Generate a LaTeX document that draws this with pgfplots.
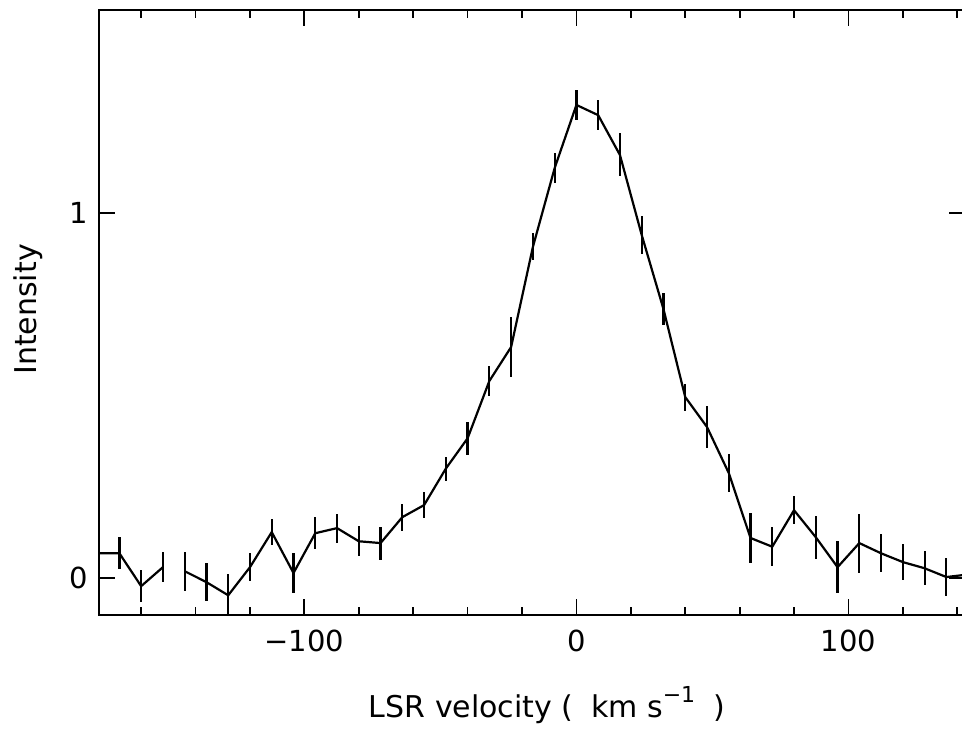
\documentclass[border=0pt]{standalone}
\usepackage{pgfplots}
\pgfplotsset{compat=1.18}
\usepackage{fontspec}
\setmainfont{DejaVu Sans}
\begin{document}
\begin{tikzpicture}
\begin{axis}[
  at={(0,0)}, anchor=south west,
  scale only axis, width=433.2pt, height=302.5pt,
  xmin=-175.5, xmax=143, ymin=-0.101, ymax=1.556,
  clip=true,
  xtick={-100,0,100}, xticklabels={−100,0,100},
  minor xtick={-160,-140,-120,-80,-60,-40,-20,20,40,60,80,120,140},
  ytick={0,1}, yticklabels={0,1},
  major tick length=8pt, minor tick length=4pt,
  tick style={line width=0.9pt, black},
  axis line style={line width=0.9pt, black},
  tick label style={font=\fontsize{14.5}{17}\selectfont},
  xticklabel style={yshift=-4pt},
  yticklabel style={xshift=-2pt},
  xlabel={LSR velocity\hspace{0.3em}(\hspace{0.6em}km s\raisebox{0.5em}{\fontsize{11}{12}\selectfont −1}\hspace{0.6em})},
  ylabel={Intensity},
  label style={font=\fontsize{15}{18}\selectfont},
  xlabel style={at={(axis description cs:0.517,-0.1686)}, anchor=base},
  ylabel style={at={(axis description cs:-0.0716,0.505)}, anchor=base},
]
\addplot[black, line width=1.1pt, mark=none,
  error bars/.cd, y dir=both, y explicit, error mark=none,
  error bar style={line width=1.1pt, black}]
  table[x index=0, y index=1, y error index=2]{
-176 0.068 0.04
-168 0.068 0.044
-160 -0.022 0.044
-152 0.030 0.041
};
\addplot[black, line width=1.1pt, mark=none,
  error bars/.cd, y dir=both, y explicit, error mark=none,
  error bar style={line width=1.1pt, black}]
  table[x index=0, y index=1, y error index=2]{
-144 0.019 0.053
-136 -0.011 0.052
-128 -0.047 0.058
-120 0.030 0.038
-112 0.126 0.035
-104 0.014 0.056
-96 0.123 0.044
-88 0.137 0.040
-80 0.101 0.041
-72 0.096 0.045
-64 0.167 0.037
-56 0.200 0.036
-48 0.300 0.033
-40 0.383 0.045
-32 0.540 0.041
-24 0.633 0.082
-16 0.907 0.037
-8 1.123 0.042
0 1.296 0.040
8 1.268 0.042
16 1.159 0.059
24 0.940 0.051
32 0.737 0.045
40 0.496 0.037
48 0.414 0.058
56 0.288 0.052
64 0.110 0.068
72 0.086 0.053
80 0.186 0.038
88 0.112 0.059
96 0.030 0.071
104 0.096 0.081
112 0.068 0.052
120 0.044 0.049
128 0.027 0.047
136 0.003 0.051
144 0.010 0.050
};
\end{axis}
\pgfresetboundingbox
\useasboundingbox (-49.5pt,-57pt) rectangle (431.5pt,307.5pt);
\end{tikzpicture}
\end{document}
